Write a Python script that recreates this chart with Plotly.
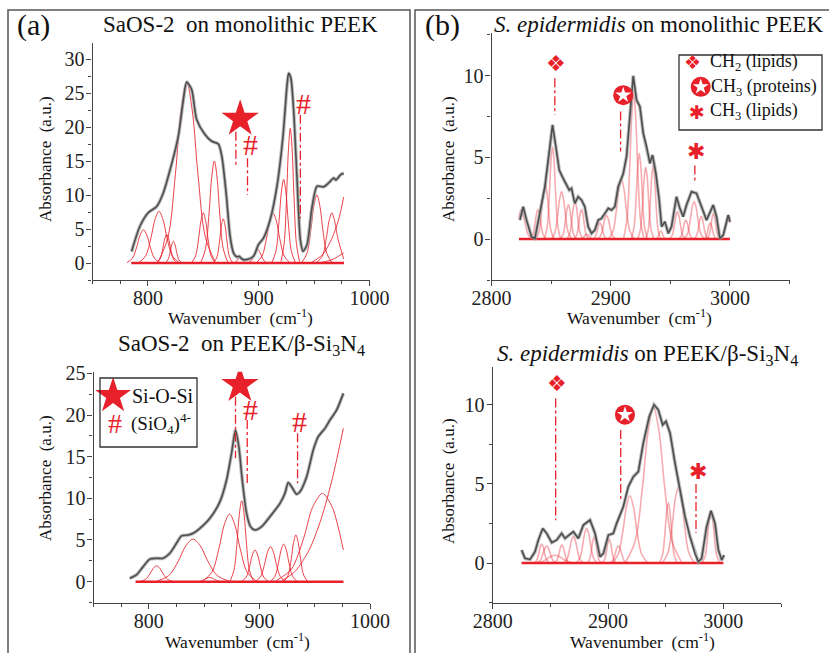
import plotly.graph_objects as go

W, H = 829, 653
RED = "rgb(232,32,42)"
SERIF = "Liberation Serif"

# ---------------- data ----------------
# (a) top: SaOS-2 on monolithic PEEK -- measured spectrum
a1_wn = [785.3, 792.8, 800.3, 807.9, 813.9, 820.0, 827.4, 832.0, 835.0, 839.5, 844.0, 851.5,
         857.6, 863.6, 866.7, 870.6, 874.2, 877.2, 880.3, 882.4, 884.8, 889.3, 895.3, 899.8,
         904.4, 910.4, 916.5, 921.9, 925.5, 927.0, 929.0, 931.5, 934.5, 937.6, 940.0, 943.6,
         948.2, 952.7, 958.7, 963.3, 967.8, 969.6, 974.0, 976.7]
a1_abs = [1.7, 5.4, 7.4, 8.3, 10.3, 13.7, 18.6, 24.0, 26.6, 25.5, 21.1, 18.9,
          17.9, 17.5, 15.7, 10.3, 3.9, 1.5, 0.9, 1.0, 0.6, 0.5, 1.0, 2.7,
          3.7, 6.4, 11.3, 18.6, 26.0, 27.9, 27.2, 22.5, 12.7, 3.4, 1.7, 2.7,
          8.3, 11.3, 11.2, 11.8, 12.5, 12.2, 13.0, 13.2]
# fitted bands: centre, height, half-width
a1_band_center = [796, 810, 817, 823, 835, 850, 860, 868, 883, 899, 913, 922.5, 928.5, 952.5]
a1_band_height = [4.9, 7.6, 4.2, 3.2, 26.6, 7.4, 15.0, 6.5, 0.8, 2.0, 7.3, 12.3, 19.8, 10.0]
a1_band_width = [5, 6, 3, 2.5, 8.5, 3.5, 4, 2.8, 2, 3, 5, 3.5, 2.8, 4.5]
a1_edge_x = [[948, 958, 966, 972, 976.7], [955, 965, 971, 976.7],
             [952.5, 957.5, 961, 963.5, 966, 968.5, 971.5, 976.7]]
a1_edge_y = [[0.1, 1.3, 3.6, 6.3, 9.7], [0.05, 0.4, 0.9, 1.5],
             [0.1, 1.0, 3.6, 6.2, 7.4, 6.2, 3.6, 0.6]]
a1_base = [785, 977]

# (a) bottom: SaOS-2 on PEEK/beta-Si3N4
a2_wn = [782.8, 788.8, 794.9, 800.9, 806.9, 813.0, 819.0, 825.0, 829.6, 835.6, 840.1, 846.2,
         855.2, 864.3, 870.3, 874.8, 878.4, 881.4, 884.5, 888.4, 892.0, 895.9, 902.0, 909.5,
         918.6, 923.1, 926.1, 930.0, 933.6, 936.7, 942.7, 948.7, 953.2, 959.3, 963.8, 969.8, 975.9]
a2_abs = [0.4, 0.8, 1.8, 2.7, 2.8, 2.8, 3.4, 4.6, 5.5, 5.6, 5.8, 6.4,
          7.6, 9.6, 12.2, 15.4, 18.2, 16.2, 12.2, 8.2, 6.6, 6.2, 6.6, 7.8,
          9.4, 10.6, 11.9, 11.2, 10.5, 10.8, 12.6, 15.8, 17.4, 18.4, 19.4, 20.6, 22.6]
a2_band_center = [807, 840, 855, 873, 884, 896, 910, 922, 933]
a2_band_height = [1.9, 5.1, 0.5, 8.1, 9.7, 3.8, 4.2, 4.5, 5.6]
a2_band_width = [5, 11, 4, 8, 3.5, 4, 4.5, 4, 3.5]
a2_edge_x = [[920, 932, 945, 956, 966, 975.9],
             [915, 929, 940, 948, 957, 966, 975.9]]
a2_edge_y = [[0.1, 1.2, 3.8, 7.6, 12.4, 18.4],
             [0.1, 1.5, 5.2, 8.9, 10.6, 8.9, 3.8]]
a2_base = [788, 976]

# (b) top: S. epidermidis on monolithic PEEK
b1_wn = [2823.8, 2826.6, 2829.4, 2833.6, 2836.4, 2840.6, 2844.8, 2847.6, 2851.2, 2854.0, 2856.8,
         2860.1, 2862.9, 2865.2, 2867.1, 2869.9, 2872.7, 2875.5, 2878.3, 2881.1, 2883.9, 2886.7,
         2889.5, 2892.3, 2895.1, 2898.0, 2900.7, 2903.5, 2906.3, 2910.5, 2913.3, 2916.1, 2918.9,
         2921.7, 2924.5, 2927.3, 2930.1, 2932.9, 2935.1, 2937.9, 2940.7, 2942.7, 2945.5, 2948.3,
         2951.0, 2955.2, 2958.0, 2960.8, 2963.6, 2967.8, 2972.0, 2976.2, 2980.4, 2986.0, 2988.8,
         2991.6, 2994.4, 2998.6, 3000.0]
b1_abs = [1.16, 1.98, 1.16, 0.14, 0.04, 1.57, 3.2, 4.84, 6.98, 5.65, 4.22,
          3.71, 3.31, 3.0, 3.1, 2.18, 2.59, 2.39, 1.98, 0.76, 0.35, 0.55,
          1.16, 1.27, 1.57, 1.88, 1.78, 1.98, 3.2, 4.0, 5.04, 7.7, 9.98,
          8.5, 8.1, 6.47, 5.65, 4.63, 5.14, 4.02, 2.39, 0.76, 1.06, 0.35,
          0.76, 2.59, 1.88, 1.37, 2.08, 2.9, 2.8, 1.98, 1.16, 2.08, 1.37,
          0.04, 0.24, 1.47, 1.06]
b1_band_center = [2839, 2845, 2851.2, 2858.8, 2864.5, 2870, 2875.5, 2880, 2891, 2896.5, 2909,
                  2919.3, 2924, 2929.4, 2935.6, 2942, 2956, 2963, 2970, 2976, 2983.5, 2986.2]
b1_band_height = [1.8, 3.4, 5.65, 2.9, 2.1, 2.3, 1.8, 0.3, 1.0, 1.45, 3.65,
                  8.9, 5.25, 4.4, 4.5, 0.5, 1.67, 1.16, 2.3, 1.4, 1.0, 1.57]
b1_band_width = [2.2, 2.5, 2.2, 2.8, 2.2, 2.2, 2.0, 2.0, 2.0, 2.5, 3.5,
                 2.8, 2.2, 2.2, 2.0, 1.5, 2.2, 2.0, 2.8, 2.0, 1.8, 1.8]
b1_edge_x = [[2823, 2824.8, 2827.5, 2830.5, 2833.5], [2992.5, 2995.5, 2998.7, 3000]]
b1_edge_y = [[1.3, 1.8, 1.2, 0.3, 0.02], [0.02, 0.5, 1.35, 1.0]]
b1_base = [2823, 3000]

# (b) bottom: S. epidermidis on PEEK/beta-Si3N4
b2_wn = [2825.1, 2828.0, 2832.4, 2836.7, 2839.6, 2843.4, 2846.8, 2851.2, 2855.5, 2859.8, 2862.7,
         2866.5, 2869.9, 2874.3, 2878.6, 2884.4, 2888.7, 2893.1, 2896.0, 2900.3, 2904.6, 2907.5,
         2913.3, 2917.6, 2922.0, 2926.3, 2930.6, 2935.8, 2939.9, 2943.6, 2947.4, 2950.3, 2953.8,
         2958.1, 2962.4, 2966.8, 2971.1, 2975.4, 2978.3, 2981.2, 2985.5, 2989.3, 2992.8, 2995.7,
         2998.6, 3000.6]
b2_abs = [0.82, 0.3, 0.23, 0.72, 1.46, 2.19, 1.88, 1.29, 1.46, 1.88, 1.56,
          1.77, 1.98, 1.56, 2.4, 2.72, 1.88, 0.4, 0.61, 1.77, 1.88, 2.51,
          3.57, 4.83, 5.46, 5.78, 7.57, 9.26, 10.0, 9.68, 8.73, 8.95, 8.2,
          6.31, 4.62, 2.93, 1.67, 0.61, 0.08, 0.3, 2.3, 3.31, 2.51, 0.82,
          0.19, 0.5]
b2_band_center = [2842.5, 2846.8, 2854, 2860, 2870, 2881.5, 2888, 2901, 2909, 2919, 2939.5,
                  2952.3, 2961, 2989.3]
b2_band_height = [1.2, 1.1, 0.5, 1.15, 1.7, 2.2, 1.65, 1.5, 1.1, 4.25, 9.85,
                  3.8, 4.8, 3.25]
b2_band_width = [2.2, 2.8, 6, 2.2, 2.8, 3, 2, 2, 2.5, 5, 8,
                 2.5, 4.5, 2.5]
b2_edge_x = []
b2_edge_y = []
b2_base = [2825, 3000]

# band profile template (offsets in half-widths, fraction of height)
BAND_STEPS = [-3.0, -2.0, -1.2, -0.6, 0.0, 0.6, 1.2, 2.0, 3.0]
BAND_SHAPE = [0.01, 0.14, 0.49, 0.84, 1.0, 0.84, 0.49, 0.14, 0.01]

# annotation marks (data coordinates)
a1_star = [883.3, 21.2]
a1_hash = [[892.3, 17.4], [940.0, 23.5]]
a1_vlines = [[879.4, 19.3, 14.0], [889.9, 15.4, 10.0], [937.6, 21.8, 6.6]]
a2_star = [882.4, 23.6]
a2_hash = [[892.0, 20.7], [936.7, 19.2]]
a2_vlines = [[878.4, 22.2, 14.8], [889.0, 19.4, 11.8], [934.5, 17.8, 11.8]]
b1_diam = [2854.5, 10.75]
b1_cstar = [2910.5, 8.8]
b1_aster = [2971.5, 5.35]
b1_vlines = [[2853.1, 9.84, 7.6], [2908.3, 7.8, 5.35], [2970.6, 4.5, 3.4]]
b2_diam = [2855.5, 11.37]
b2_cstar = [2914.7, 9.37]
b2_aster = [2978.3, 5.8]
b2_vlines = [[2854.6, 10.4, 2.7], [2911.0, 8.4, 4.0], [2976.3, 5.0, 1.9]]

# ---------------- figure ----------------
fig = go.Figure()

panels = [
    dict(ax="", wn=a1_wn, ab=a1_abs, bc=a1_band_center, bh=a1_band_height, bw=a1_band_width,
         ex=a1_edge_x, ey=a1_edge_y, base=a1_base, kind="a"),
    dict(ax="2", wn=a2_wn, ab=a2_abs, bc=a2_band_center, bh=a2_band_height, bw=a2_band_width,
         ex=a2_edge_x, ey=a2_edge_y, base=a2_base, kind="a"),
    dict(ax="3", wn=b1_wn, ab=b1_abs, bc=b1_band_center, bh=b1_band_height, bw=b1_band_width,
         ex=b1_edge_x, ey=b1_edge_y, base=b1_base, kind="b"),
    dict(ax="4", wn=b2_wn, ab=b2_abs, bc=b2_band_center, bh=b2_band_height, bw=b2_band_width,
         ex=b2_edge_x, ey=b2_edge_y, base=b2_base, kind="b"),
]

for p in panels:
    xa, ya = "x" + p["ax"], "y" + p["ax"]
    if p["kind"] == "a":
        bcol, bwid = "rgba(232,32,42,0.85)", 1.0
        shape = "spline"
    else:
        bcol, bwid = "rgba(236,70,80,0.45)", 1.6
        shape = "linear"
    for c, h, w in zip(p["bc"], p["bh"], p["bw"]):
        xs = [c + s * w for s in BAND_STEPS]
        ys = [h * f for f in BAND_SHAPE]
        fig.add_trace(go.Scatter(x=xs, y=ys, mode="lines", xaxis=xa, yaxis=ya, showlegend=False,
                                 line=dict(color=bcol, width=bwid, shape="spline", smoothing=1.0),
                                 hoverinfo="skip"))
    for xs, ys in zip(p["ex"], p["ey"]):
        fig.add_trace(go.Scatter(x=xs, y=ys, mode="lines", xaxis=xa, yaxis=ya, showlegend=False,
                                 line=dict(color=bcol, width=bwid, shape="spline", smoothing=0.8),
                                 hoverinfo="skip"))
    fig.add_trace(go.Scatter(x=p["base"], y=[0, 0], mode="lines", xaxis=xa, yaxis=ya,
                             showlegend=False, line=dict(color=RED, width=2.5), hoverinfo="skip"))
    fig.add_trace(go.Scatter(x=p["wn"], y=p["ab"], mode="lines", xaxis=xa, yaxis=ya,
                             showlegend=False,
                             line=dict(color="rgba(165,165,165,0.75)", width=3.6, shape=shape,
                                       smoothing=0.7), hoverinfo="skip"))
    fig.add_trace(go.Scatter(x=p["wn"], y=p["ab"], mode="lines", xaxis=xa, yaxis=ya,
                             showlegend=False,
                             line=dict(color="#4d4d4d", width=1.6, shape=shape, smoothing=0.7),
                             hoverinfo="skip"))

# vertical dash-dot guide lines
for ax, vl in [("", a1_vlines), ("2", a2_vlines), ("3", b1_vlines), ("4", b2_vlines)]:
    for x, y0, y1 in vl:
        fig.add_trace(go.Scatter(x=[x, x], y=[y0, y1], mode="lines", xaxis="x" + ax, yaxis="y" + ax,
                                 showlegend=False, line=dict(color=RED, width=1.3, dash="dashdot"),
                                 hoverinfo="skip"))

# stars (Si-O-Si)
for ax, pt in [("", a1_star), ("2", a2_star)]:
    fig.add_trace(go.Scatter(x=[pt[0]], y=[pt[1]], mode="markers", xaxis="x" + ax, yaxis="y" + ax,
                             showlegend=False, marker=dict(symbol="star", size=28, color=RED,
                                                           line=dict(width=0)), hoverinfo="skip"))
# legend star in (a) bottom
fig.add_trace(go.Scatter(x=[767.7], y=[22.3], mode="markers", xaxis="x2", yaxis="y2",
                         showlegend=False, marker=dict(symbol="star", size=27, color=RED,
                                                       line=dict(width=0)), hoverinfo="skip"))
# circled stars (CH3 proteins)
for ax, pt in [("3", b1_cstar), ("4", b2_cstar), ("3", [2975.5, 9.31])]:
    fig.add_trace(go.Scatter(x=[pt[0]], y=[pt[1]], mode="markers", xaxis="x" + ax, yaxis="y" + ax,
                             showlegend=False, marker=dict(symbol="circle", size=20, color=RED,
                                                           line=dict(width=0)), hoverinfo="skip"))
    fig.add_trace(go.Scatter(x=[pt[0]], y=[pt[1]], mode="markers", xaxis="x" + ax, yaxis="y" + ax,
                             showlegend=False, marker=dict(symbol="star", size=12, color="white",
                                                           line=dict(width=0)), hoverinfo="skip"))

ann = []
for ax, pts in [("", a1_hash), ("2", a2_hash)]:
    for x, y in pts:
        ann.append(dict(x=x, y=y, xref="x" + ax, yref="y" + ax, text="#", showarrow=False,
                        font=dict(family=SERIF, size=30, color=RED)))
for ax, pt in [("3", b1_diam), ("4", b2_diam)]:
    ann.append(dict(x=pt[0], y=pt[1], xref="x" + ax, yref="y" + ax, text="\u2756", showarrow=False,
                    font=dict(family="DejaVu Sans", size=22, color=RED)))
for ax, pt in [("3", b1_aster), ("4", b2_aster)]:
    ann.append(dict(x=pt[0], y=pt[1], xref="x" + ax, yref="y" + ax, text="\u2731", showarrow=False,
                    font=dict(family="DejaVu Sans", size=22, color=RED)))


def P(x, y, text, size, anchor="center", angle=0, color="#111", family=SERIF):
    ann.append(dict(x=x / W, y=1 - y / H, xref="paper", yref="paper", text=text, showarrow=False,
                    xanchor=anchor, yanchor="middle", textangle=angle,
                    font=dict(family=family, size=size, color=color)))


P(33, 25, "(a)", 30)
P(443, 25, "(b)", 30)
P(240, 25, "SaOS-2  on monolithic PEEK", 23)
P(658, 25, "<i>S. epidermidis</i> on monolithic PEEK", 23)
P(241, 345, "SaOS-2  on PEEK/\u03b2-Si<sub>3</sub>N<sub>4</sub>", 23)
P(647, 355, "<i>S. epidermidis</i> on PEEK/\u03b2-Si<sub>3</sub>N<sub>4</sub>", 23)
for x, y in [(45, 159), (45, 478), (448, 159), (448, 481)]:
    P(x, y, "Absorbance  (a.u.)", 17, angle=-90)
for x, y in [(240, 317), (237, 641), (639, 317), (642, 641)]:
    P(x, y, "Wavenumber  (cm<sup>-1</sup>)", 17.5)
# legend texts
P(130, 396, "Si-O-Si", 20, anchor="left")
P(115, 423, "#", 28, color=RED)
P(129, 423, "(SiO<sub>4</sub>)<sup>4-</sup>", 19, anchor="left")
P(692, 62, "\u2756", 19, color=RED, family="DejaVu Sans")
P(708, 62, "CH<sub>2</sub> (lipids)", 18, anchor="left")
P(709, 87, "CH<sub>3</sub> (proteins)", 18, anchor="left")
P(697, 112, "\u2731", 19, color=RED, family="DejaVu Sans")
P(708, 112, "CH<sub>3</sub> (lipids)", 18, anchor="left")

shapes = []
def rect(x0, y0, x1, y1, w=1.5, col="#555"):
    shapes.append(dict(type="rect", xref="paper", yref="paper", x0=x0 / W, x1=x1 / W,
                       y0=1 - y1 / H, y1=1 - y0 / H, line=dict(color=col, width=w)))

rect(8, 10, 410, 680)
rect(415, 10, 840, 680)
rect(100, 378, 197, 447, w=1.3, col="#333")
rect(679, 55, 822, 130, w=1.3, col="#333")


def xaxis(dom, rng, dtick, minor, anchor):
    return dict(domain=[dom[0] / W, dom[1] / W], range=rng, dtick=dtick, tick0=0, anchor=anchor,
                automargin=False, ticklabelstandoff=-5,
                showline=True, linecolor="#444", linewidth=1.2, ticks="outside", ticklen=5,
                tickcolor="#444", showgrid=False, zeroline=False,
                tickfont=dict(family=SERIF, size=20, color="#222"),
                minor=dict(dtick=minor, ticks="outside", ticklen=3, tickcolor="#444", showgrid=False))


def yaxis(top, bot, rng, anchor):
    return dict(domain=[1 - bot / H, 1 - top / H], range=rng, dtick=5, tick0=0, anchor=anchor,
                automargin=False, ticklabelstandoff=-2,
                showline=True, linecolor="#444", linewidth=1.2, ticks="outside", ticklen=5,
                tickcolor="#444", showgrid=False, zeroline=False,
                tickfont=dict(family=SERIF, size=20, color="#222"),
                minor=dict(dtick=2.5, ticks="outside", ticklen=3, tickcolor="#444", showgrid=False))


fig.update_layout(
    width=W, height=H, margin=dict(l=0, r=0, t=0, b=0, pad=0, autoexpand=False),
    paper_bgcolor="white", plot_bgcolor="white", showlegend=False,
    xaxis=xaxis((92.5, 369.5), [750, 1000], 100, 25, "y"),
    yaxis=yaxis(42.7, 280, [-2.5, 32.4], "x"),
    xaxis2=xaxis((93.5, 370), [750, 1000], 100, 25, "y2"),
    yaxis2=yaxis(371.7, 603.3, [-2.6, 25.2], "x2"),
    xaxis3=xaxis((491.5, 789.5), [2800, 3050], 100, 50, "y3"),
    yaxis3=yaxis(33, 280, [-2.5, 12.6], "x3"),
    xaxis4=xaxis((492.7, 781), [2800, 3050], 100, 50, "y4"),
    yaxis4=yaxis(366.7, 602.7, [-2.5, 12.4], "x4"),
    annotations=ann, shapes=shapes,
)

fig.write_html("out.html", config={"displayModeBar": False},
               post_script="document.body.style.margin='0px';")
